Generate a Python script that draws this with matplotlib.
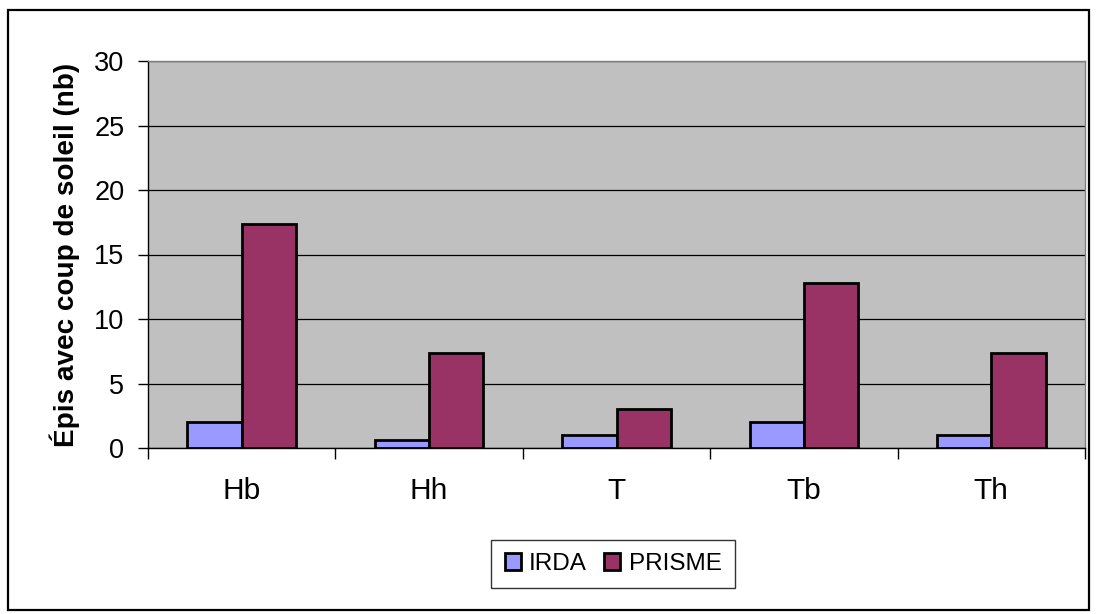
import matplotlib
matplotlib.use("Agg")
import matplotlib.pyplot as plt
import numpy as np
from matplotlib.patches import Rectangle

categories = ["Hb", "Hh", "T", "Tb", "Th"]
irda = [2, 0.6, 1, 2, 1]
prisme = [17.4, 7.4, 3, 12.8, 7.4]
series_names = ["IRDA", "PRISME"]
yticks = [0, 5, 10, 15, 20, 25, 30]

plt.rcParams['font.family'] = ['Liberation Sans', 'DejaVu Sans']

W, H = 1097, 614
fig = plt.figure(figsize=(W / 100, H / 100), dpi=100)
fig.patch.set_facecolor('white')

# outer frame
fig.patches.append(Rectangle((8 / W, 4 / H), 1081 / W, 600 / H, transform=fig.transFigure,
                             fill=False, edgecolor='black', linewidth=1.6))

left, right, top, bottom = 148, 1085, 61, 448
ax = fig.add_axes([left / W, 1 - bottom / H, (right - left) / W, (bottom - top) / H])
ax.set_facecolor('#c0c0c0')

x = np.arange(len(categories))
bw = 0.29
ax.bar(x - bw / 2, irda, bw, color='#9999ff', edgecolor='black', linewidth=2, label=series_names[0], zorder=3)
ax.bar(x + bw / 2, prisme, bw, color='#993366', edgecolor='black', linewidth=2, label=series_names[1], zorder=3)

ax.set_xlim(-0.5, len(categories) - 0.5)
ax.set_ylim(0, 30)
ax.set_yticks(yticks)
ax.set_yticklabels([str(v) for v in yticks], fontsize=19.5)
ax.yaxis.grid(True, color='black', linewidth=0.9, zorder=0)
ax.set_axisbelow(True)

ax.set_xticks(x)
ax.set_xticklabels(categories, fontsize=21.5)
ax.set_xticks(np.arange(len(categories) + 1) - 0.5, minor=True)
ax.tick_params(axis='x', which='major', length=0, pad=21)
ax.tick_params(axis='x', which='minor', length=8, width=1, direction='out', color='black')
ax.tick_params(axis='y', length=7, width=1, direction='out', pad=10)

for s in ['top', 'right']:
    ax.spines[s].set_color('#808080')
    ax.spines[s].set_linewidth(1)
for s in ['left', 'bottom']:
    ax.spines[s].set_color('black')
    ax.spines[s].set_linewidth(1)

ylab = ax.set_ylabel("Épis avec coup de soleil (nb)", fontsize=20, fontweight='bold', labelpad=10)

leg = ax.legend(loc='center', bbox_to_anchor=(613 / W, 1 - 564 / H), bbox_transform=fig.transFigure,
                ncol=2, fontsize=17.5, frameon=True, fancybox=False, edgecolor='black',
                handlelength=0.66, handleheight=0.66, handletextpad=0.35, columnspacing=0.7,
                borderpad=0.55)
leg.get_frame().set_linewidth(1)

# fit the y-label length to the reference (about 383 px)
fig.canvas.draw()
r = fig.canvas.get_renderer()
bb = ylab.get_window_extent(r)
ylab.set_fontsize(20 * 383 / bb.height)

fig.savefig("out.png", dpi=100)
